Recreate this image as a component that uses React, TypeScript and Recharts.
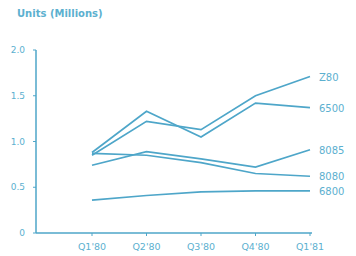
import { LineChart, Line, XAxis, YAxis } from 'recharts';

const quarters = ["Q1'80", "Q2'80", "Q3'80", "Q4'80", "Q1'81"];
const z80 = [0.85, 1.22, 1.13, 1.5, 1.71];
const m6500 = [0.88, 1.33, 1.05, 1.42, 1.37];
const i8085 = [0.74, 0.89, 0.81, 0.72, 0.91];
const i8080 = [0.87, 0.85, 0.77, 0.65, 0.62];
const m6800 = [0.36, 0.41, 0.45, 0.46, 0.46];
const yTicks = [0, 0.5, 1, 1.5, 2];

const series = [
  { key: 'Z80', values: z80 },
  { key: '6500', values: m6500 },
  { key: '8085', values: i8085 },
  { key: '8080', values: i8080 },
  { key: '6800', values: m6800 },
];

const data = quarters.map((q, i) => {
  const row: Record<string, string | number> = { q };
  series.forEach((s) => { row[s.key] = s.values[i]; });
  return row;
});

const blue = '#4ea6c9';
const textBlue = '#5cb0cf';

function endLabel(name: string) {
  return (props: any) => {
    const { x, y, index } = props;
    if (index !== quarters.length - 1) return null;
    return (
      <text x={x + 9} y={y + 4} fill={textBlue} fontSize={10} fontFamily="DejaVu Sans">
        {name}
      </text>
    );
  };
}

function App() {
  return (
    <div style={{ position: 'absolute', left: 0, top: 0, width: 356, height: 256, background: '#fff' }}>
      <svg width={160} height={24} style={{ position: 'absolute', left: 0, top: 0 }}>
        <text x={17} y={17} fill={textBlue} fontSize={10} fontWeight="bold" fontFamily="DejaVu Sans">
          Units (Millions)
        </text>
      </svg>
      <LineChart width={356} height={256} data={data} margin={{ top: 50, right: 44, bottom: 0, left: 6 }}>
        <XAxis
          dataKey="q"
          padding={{ left: 56, right: 2 }}
          tick={{ fill: textBlue, fontSize: 9.5, fontFamily: 'DejaVu Sans', dy: 5 }}
          axisLine={{ stroke: blue, strokeWidth: 1.5 }}
          tickLine={{ stroke: blue }}
          tickSize={3}
          height={23}
        />
        <YAxis
          domain={[0, 2]}
          ticks={yTicks}
          tickFormatter={(v: number) => (v === 0 ? '0' : v.toFixed(1))}
          tick={{ fill: textBlue, fontSize: 9, fontFamily: 'DejaVu Sans', dx: -6 }}
          axisLine={{ stroke: blue, strokeWidth: 1.5 }}
          tickLine={{ stroke: blue }}
          tickSize={3}
          width={30}
        />
        {series.map((s) => (
          <Line
            key={s.key}
            dataKey={s.key}
            type="linear"
            stroke={blue}
            strokeWidth={1.7}
            dot={false}
            isAnimationActive={false}
            label={endLabel(s.key)}
          />
        ))}
      </LineChart>
    </div>
  );
}

export default App;
